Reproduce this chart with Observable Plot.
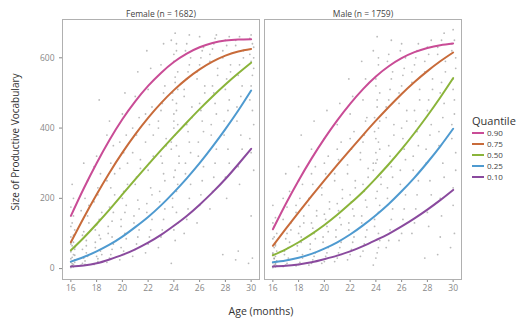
<!DOCTYPE html>
<html>
<head>
<meta charset="utf-8">
<script src="https://cdn.jsdelivr.net/npm/d3@7"></script>
<script src="https://cdn.jsdelivr.net/npm/@observablehq/plot@0.6"></script>
<style>
  html, body { margin: 0; padding: 0; background: #fff; }
  #wrap { position: relative; width: 518px; height: 320px; font-family: "Open Sans", sans-serif; }
  #chart { position: absolute; left: 0; top: 0; }
  .ytitle { position: absolute; left: 15px; top: 142px; transform: translate(-50%, -50%) rotate(-90deg); font-size: 10px; color: #333; white-space: nowrap; }
  .xtitle { position: absolute; left: 261px; top: 311px; transform: translate(-50%, -50%); font-size: 10.5px; color: #333; white-space: nowrap; }
  #legend { position: absolute; left: 472px; top: 114px; font-size: 8px; color: #444; }
  #legend .ttl { font-size: 11px; color: #333; height: 14px; line-height: 14px; }
  #legend .item { display: flex; align-items: center; height: 10.9px; line-height: 10.9px; }
  #legend .sw { display: inline-block; width: 12px; height: 2px; margin-right: 3px; }
</style>
</head>
<body>
<div id="wrap">
  <div id="chart"></div>
  <div class="ytitle">Size of Productive Vocabulary</div>
  <div class="xtitle">Age (months)</div>
  <div id="legend"></div>
</div>
<script>
const facets = ["Female (n = 1682)", "Male (n = 1759)"];
const quantiles = ["0.90", "0.75", "0.50", "0.25", "0.10"];
const colors = ["#C94C96", "#C86B3A", "#8AB43A", "#4E9AD0", "#8A4A9E"];
const xTicks = [16, 18, 20, 22, 24, 26, 28, 30];
const yTicks = [0, 200, 400, 600];

const ages = [16, 17, 18, 19, 20, 21, 22, 23, 24, 25, 26, 27, 28, 29, 30];
// Female quantile curves
const fQ90 = [150, 228, 300, 366, 425, 476, 520, 557, 588, 612, 630, 642, 649, 652, 653];
const fQ75 = [75, 145, 211, 273, 330, 382, 429, 471, 508, 540, 567, 589, 606, 618, 625];
const fQ50 = [52, 88, 127, 168, 211, 254, 296, 337, 377, 416, 454, 490, 524, 556, 586];
const fQ25 = [20, 33, 49, 68, 91, 118, 147, 180, 217, 257, 300, 347, 397, 450, 507];
const fQ10 = [6, 9, 15, 26, 39, 55, 74, 96, 122, 150, 182, 217, 255, 297, 341];
// Male quantile curves
const mQ90 = [112, 184, 251, 313, 370, 422, 469, 511, 547, 576, 599, 616, 628, 636, 641];
const mQ75 = [65, 113, 160, 206, 251, 295, 338, 380, 421, 460, 497, 531, 562, 590, 615];
const mQ50 = [38, 55, 75, 98, 124, 153, 185, 219, 257, 297, 340, 386, 435, 487, 542];
const mQ25 = [18, 23, 31, 42, 57, 75, 97, 123, 152, 184, 220, 259, 302, 348, 398];
const mQ10 = [6, 8, 12, 18, 27, 37, 49, 64, 81, 99, 120, 143, 168, 195, 224];

// Observed children (a hand-read sample of the scatter), [age, vocabulary]
const femalePts = [
[16.0,3],[16.1,8],[16.2,12],[16.0,18],[16.3,25],[16.1,32],[16.2,40],[16.0,48],[16.3,55],[16.1,65],[16.2,75],[16.0,90],[16.3,110],[16.1,130],[16.2,150],[16.0,175],[16.2,200],[16.1,240],[16.3,60],[16.0,28],
[16.2,5],[16.1,14],[16.3,38],[16.0,70],[16.2,95],[16.1,8],[16.3,18],[16.0,120],
[16.8,10],[17.1,22],[17.3,35],[16.9,55],[17.2,80],[17.0,105],[17.4,130],[16.8,165],[17.1,200],[17.3,250],[17.0,300],[17.2,45],[16.9,15],
[17.0,30],[17.2,65],[16.9,95],[17.3,150],[17.1,12],[17.4,180],
[17.8,12],[18.1,28],[18.3,50],[17.9,75],[18.2,95],[18.0,125],[18.4,160],[17.8,190],[18.1,230],[18.3,270],[18.0,320],[18.2,480],[17.9,60],[18.1,20],
[18.0,35],[18.3,85],[17.9,110],[18.2,140],[18.1,210],[18.4,40],[17.8,290],
[18.8,18],[19.1,40],[19.3,70],[18.9,100],[19.2,135],[19.0,175],[19.4,210],[18.8,250],[19.1,300],[19.3,350],[19.0,420],[19.2,90],
[19.0,30],[19.2,55],[18.9,120],[19.3,160],[19.1,230],[19.4,270],[18.8,380],
[19.8,25],[20.1,50],[20.3,85],[19.9,120],[20.2,160],[20.0,200],[20.4,240],[19.8,285],[20.1,330],[20.3,380],[20.0,440],[20.2,500],[19.9,60],
[20.0,40],[20.2,100],[19.9,140],[20.3,180],[20.1,220],[20.4,300],[19.8,360],
[20.8,35],[21.1,70],[21.3,110],[20.9,150],[21.2,195],[21.0,240],[21.4,285],[20.8,330],[21.1,380],[21.3,430],[21.0,490],[21.2,560],
[21.0,55],[21.2,90],[20.9,130],[21.3,170],[21.1,260],[21.4,310],[20.8,400],
[21.8,45],[22.1,90],[22.3,140],[21.9,185],[22.2,230],[22.0,280],[22.4,320],[21.8,360],[22.1,410],[22.3,460],[22.0,510],[22.2,570],[21.9,620],
[22.0,70],[22.2,110],[21.9,160],[22.3,210],[22.1,300],[22.4,380],[21.8,440],
[22.8,60],[23.1,110],[23.3,170],[22.9,220],[23.2,270],[23.0,320],[23.4,370],[22.8,420],[23.1,470],[23.3,520],[23.0,580],[23.2,640],
[23.0,90],[23.2,140],[22.9,190],[23.3,250],[23.1,300],[23.4,350],[22.8,400],[23.0,450],[23.2,500],
[23.8,15],[24.1,80],[24.3,130],[23.9,175],[24.2,220],[24.0,260],[24.4,300],[23.8,340],[24.1,380],[24.3,410],[24.0,440],[24.2,470],[23.9,500],[24.1,530],[24.3,560],[24.0,590],[24.2,620],[23.8,650],[24.1,670],[24.0,420],[24.2,350],
[24.0,110],[24.2,160],[23.9,200],[24.3,240],[24.1,280],[24.4,320],[23.8,360],[24.0,400],[24.2,450],[23.9,480],[24.3,510],[24.1,545],[24.0,610],[24.2,640],
[24.8,100],[25.1,170],[25.3,240],[24.9,300],[25.2,360],[25.0,410],[25.4,460],[24.8,510],[25.1,560],[25.3,600],[25.0,640],[25.2,665],
[25.0,140],[25.2,200],[24.9,270],[25.3,330],[25.1,390],[25.4,430],[24.8,490],[25.0,540],[25.2,580],[24.9,620],
[25.8,130],[26.1,210],[26.3,290],[25.9,360],[26.2,420],[26.0,470],[26.4,520],[25.8,560],[26.1,600],[26.3,630],[26.0,660],
[26.0,180],[26.2,250],[25.9,320],[26.3,390],[26.1,450],[26.4,500],[25.8,540],[26.0,580],[26.2,620],
[26.8,170],[27.1,260],[27.3,340],[26.9,410],[27.2,470],[27.0,520],[27.4,570],[26.8,610],[27.1,640],[27.3,665],
[27.0,220],[27.2,300],[26.9,380],[27.3,440],[27.1,500],[27.4,550],[26.8,590],[27.0,625],[27.2,655],
[27.8,40],[28.1,200],[28.3,300],[27.9,380],[28.2,450],[28.0,510],[28.4,560],[27.8,600],[28.1,635],[28.3,660],
[28.0,260],[28.2,340],[27.9,420],[28.3,480],[28.1,540],[28.4,580],[27.8,620],[28.0,650],
[28.8,25],[29.1,240],[29.3,340],[28.9,420],[29.2,490],[29.0,550],[29.4,600],[28.8,635],[29.1,660],
[29.0,290],[29.2,380],[28.9,460],[29.3,520],[29.1,580],[29.4,620],[28.8,650],[29.0,50],
[29.8,15],[30.0,150],[30.2,280],[29.9,370],[30.1,450],[30.0,520],[30.2,570],[29.9,610],[30.1,640],[30.0,665],[30.2,600],
[30.0,330],[30.2,410],[29.9,480],[30.1,550],[30.0,590],[30.2,630],[29.9,655],[30.1,30]
];
const malePts = [
[16.0,3],[16.1,7],[16.2,12],[16.0,17],[16.3,22],[16.1,28],[16.2,35],[16.0,42],[16.3,50],[16.1,60],[16.2,70],[16.0,85],[16.3,100],[16.1,120],[16.2,145],[16.0,180],[16.2,15],[16.1,30],
[16.2,5],[16.1,10],[16.3,20],[16.0,45],[16.2,65],[16.1,90],[16.3,8],[16.0,130],
[16.8,6],[17.1,15],[17.3,25],[16.9,40],[17.2,60],[17.0,85],[17.4,110],[16.8,140],[17.1,175],[17.3,220],[17.0,270],
[17.0,10],[17.2,30],[16.9,50],[17.3,75],[17.1,100],[17.4,130],[16.8,200],
[17.8,8],[18.1,18],[18.3,30],[17.9,50],[18.2,75],[18.0,100],[18.4,130],[17.8,160],[18.1,200],[18.3,240],[18.0,290],[18.2,380],
[18.0,12],[18.3,40],[17.9,65],[18.2,90],[18.1,120],[18.4,150],[17.8,180],[18.0,250],
[18.8,10],[19.1,25],[19.3,45],[18.9,70],[19.2,100],[19.0,130],[19.4,165],[18.8,200],[19.1,240],[19.3,290],[19.0,340],[19.2,420],
[19.0,15],[19.2,35],[18.9,55],[19.3,85],[19.1,115],[19.4,150],[18.8,180],[19.0,270],
[19.8,15],[20.1,35],[20.3,60],[19.9,90],[20.2,120],[20.0,155],[20.4,190],[19.8,230],[20.1,270],[20.3,320],[20.0,370],[20.2,450],
[20.0,20],[20.2,45],[19.9,75],[20.3,105],[20.1,140],[20.4,170],[19.8,210],[20.0,300],
[20.8,20],[21.1,45],[21.3,75],[20.9,110],[21.2,145],[21.0,185],[21.4,225],[20.8,270],[21.1,310],[21.3,360],[21.0,410],[21.2,470],
[21.0,30],[21.2,60],[20.9,90],[21.3,125],[21.1,165],[21.4,200],[20.8,250],[21.0,340],
[21.8,25],[22.1,55],[22.3,90],[21.9,130],[22.2,170],[22.0,210],[22.4,250],[21.8,295],[22.1,340],[22.3,390],[22.0,440],[22.2,490],[21.9,540],
[22.0,40],[22.2,75],[21.9,110],[22.3,150],[22.1,190],[22.4,230],[21.8,270],[22.0,370],
[22.8,35],[23.1,70],[23.3,110],[22.9,150],[23.2,195],[23.0,240],[23.4,285],[22.8,330],[23.1,380],[23.3,430],[23.0,480],[23.2,540],[22.9,590],
[23.0,50],[23.2,90],[22.9,130],[23.3,175],[23.1,220],[23.4,260],[22.8,310],[23.0,360],[23.2,420],
[23.8,10],[24.1,45],[24.3,80],[23.9,120],[24.2,160],[24.0,200],[24.4,240],[23.8,280],[24.1,310],[24.3,340],[24.0,370],[24.2,400],[23.9,430],[24.1,460],[24.3,500],[24.0,540],[24.2,580],[23.8,620],[24.1,660],[24.0,300],[24.2,60],
[24.0,30],[24.2,100],[23.9,140],[24.3,180],[24.1,220],[24.4,260],[23.8,300],[24.0,330],[24.2,360],[23.9,390],[24.3,420],[24.1,480],[24.0,520],[24.2,600],
[24.8,60],[25.1,110],[25.3,170],[24.9,230],[25.2,290],[25.0,350],[25.4,410],[24.8,460],[25.1,510],[25.3,560],[25.0,610],[25.2,650],
[25.0,80],[25.2,140],[24.9,200],[25.3,260],[25.1,320],[25.4,380],[24.8,430],[25.0,480],[25.2,540],[24.9,590],
[25.8,80],[26.1,140],[26.3,210],[25.9,280],[26.2,340],[26.0,400],[26.4,450],[25.8,500],[26.1,550],[26.3,600],[26.0,640],
[26.0,100],[26.2,170],[25.9,240],[26.3,310],[26.1,370],[26.4,420],[25.8,470],[26.0,520],[26.2,570],[25.9,620],
[26.8,100],[27.1,170],[27.3,250],[26.9,320],[27.2,390],[27.0,450],[27.4,510],[26.8,560],[27.1,600],[27.3,640],
[27.0,130],[27.2,210],[26.9,280],[27.3,350],[27.1,420],[27.4,480],[26.8,530],[27.0,580],[27.2,620],
[27.8,30],[28.1,120],[28.3,210],[27.9,300],[28.2,380],[28.0,450],[28.4,510],[27.8,560],[28.1,610],[28.3,650],
[28.0,160],[28.2,250],[27.9,340],[28.3,410],[28.1,480],[28.4,540],[27.8,590],[28.0,630],
[28.8,40],[29.1,150],[29.3,260],[28.9,350],[29.2,430],[29.0,500],[29.4,560],[28.8,610],[29.1,650],[29.3,670],
[29.0,200],[29.2,300],[28.9,390],[29.3,470],[29.1,530],[29.4,590],[28.8,630],[29.0,90],
[29.8,60],[30.0,180],[30.2,280],[29.9,370],[30.1,440],[30.0,510],[30.2,570],[29.9,620],[30.1,650],[30.0,680],
[30.0,230],[30.2,330],[29.9,410],[30.1,480],[30.0,540],[30.2,600],[29.9,640],[30.1,100]
];

// Build tables
const points = [
  ...femalePts.map(([a, v]) => ({facet: facets[0], age: a, vocab: v})),
  ...malePts.map(([a, v]) => ({facet: facets[1], age: a, vocab: v}))
];
const curveSets = [[fQ90, fQ75, fQ50, fQ25, fQ10], [mQ90, mQ75, mQ50, mQ25, mQ10]];
const lines = [];
curveSets.forEach((set, fi) => set.forEach((vals, qi) => vals.forEach((v, i) =>
  lines.push({facet: facets[fi], q: quantiles[qi], age: ages[i], vocab: v}))));

const chart = Plot.plot({
  width: 465,
  height: 320,
  marginLeft: 62,
  marginRight: 4,
  marginTop: 19,
  marginBottom: 41,
  style: {fontFamily: "Open Sans, sans-serif", fontSize: "8.5px", color: "#888", background: "white", overflow: "visible"},
  fx: {domain: facets, paddingInner: 0.025, paddingOuter: 0, label: null, axis: "top", tickSize: 0, tickPadding: 3},
  x: {domain: [15.35, 30.65], ticks: xTicks, tickSize: 3, tickPadding: 2, label: null},
  y: {domain: [-31, 709], ticks: yTicks, tickSize: 3, tickPadding: 5, label: null},
  color: {domain: quantiles, range: colors},
  marks: [
    Plot.frame({stroke: "#b0b0b0"}),
    Plot.dot(points, {x: "age", y: "vocab", fx: "facet", r: 0.9, fill: "#8c8c8c", fillOpacity: 0.6, stroke: null}),
    Plot.line(lines, {x: "age", y: "vocab", fx: "facet", z: "q", stroke: "q", strokeWidth: 2, curve: "natural"})
  ]
});
document.getElementById("chart").appendChild(chart);
// darker facet strip labels
chart.querySelectorAll("g[aria-label='fx-axis'] text, g[aria-label='fx-axis tick label'] text").forEach(t => t.setAttribute("fill", "#444"));

// Legend
const lg = document.getElementById("legend");
lg.innerHTML = `<div class="ttl">Quantile</div>` + quantiles.map((q, i) =>
  `<div class="item"><span class="sw" style="background:${colors[i]}"></span>${q}</div>`).join("");
</script>
</body>
</html>
